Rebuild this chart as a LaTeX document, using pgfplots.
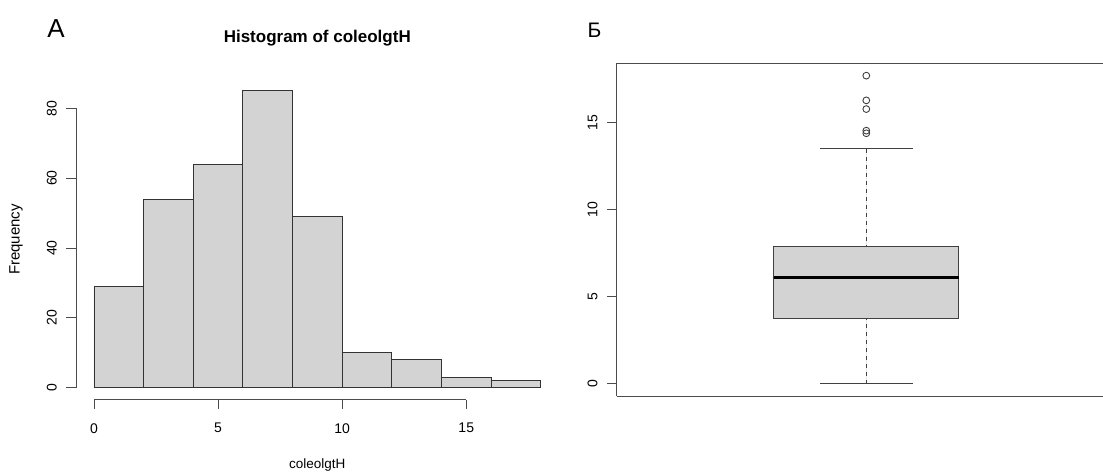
\documentclass[border=0pt]{standalone}
\usepackage{fontspec}
\setmainfont{Liberation Sans}
\usepackage{pgfplots}
\pgfplotsset{compat=1.18}
\usepgfplotslibrary{statistics}
\definecolor{rgray}{HTML}{D3D3D3}
\begin{document}
\begin{tikzpicture}
\useasboundingbox (0,0) rectangle (1103pt,472pt);
\pgfplotsset{
  rstyle/.style={
    scale only axis,
    /pgf/number format/assume math mode=true,
    every tick label/.append style={font=\fontsize{14}{16}\selectfont, black, inner sep=0pt},
    tick align=outside,
    major tick length=9.5pt,
    tick style={black!70, line width=0.9pt},
    yticklabel={\rotatebox{90}{\pgfmathprintnumber{\tick}}},
    yticklabel style={anchor=east, xshift=-9.5pt},
    xticklabel style={anchor=north, yshift=-14pt},
    clip=false,
  }
}
% ---------- Histogram ----------
\begin{axis}[rstyle,
  at={(76pt,72.4pt)}, anchor=south west,
  width=482.6pt, height=320.6pt,
  xmin=-0.725, xmax=18.72, ymin=-3.4, ymax=88.4,
  axis x line*=bottom, axis y line*=left,
  axis line style={draw=none},
  xtick={0,5,10,15}, ytick={0,20,40,60,80},
  title={Histogram of coleolgtH},
  title style={at={(rel axis cs:0.5,1.0936)}, anchor=base, inner sep=0pt, font=\bfseries\fontsize{17}{19}\selectfont},
  xlabel={coleolgtH},
  xlabel style={at={(rel axis cs:0.5,-0.2149)}, anchor=base, inner sep=0pt, font=\fontsize{13.5}{15}\selectfont},
  ylabel={Frequency},
  ylabel style={at={(rel axis cs:-0.1243,0.4994)}, anchor=center, inner sep=0pt, font=\fontsize{15}{17}\selectfont},
]
\addplot[ybar interval, fill=rgray, draw=black!80, line width=0.9pt]
  coordinates {(0,29) (2,54) (4,64) (6,85) (8,49) (10,10) (12,8) (14,3) (16,2) (18,2)};
\draw[black!70, line width=0.9pt] (axis cs:0,-3.4) -- (axis cs:15,-3.4);
\draw[black!70, line width=0.9pt] (axis cs:-0.725,0) -- (axis cs:-0.725,80);
\end{axis}
% ---------- Boxplot ----------
\begin{axis}[rstyle,
  at={(616.7pt,76pt)}, anchor=south west,
  width=486.3pt, height=332.7pt,
  xmin=-0.0794, xmax=2.0236, ymin=-0.707, ymax=18.41,
  axis x line*=box, axis y line*=left,
  axis line style={black!70, line width=0.9pt},
  xtick=\empty, ytick={0,5,10,15},
  boxplot/draw direction=y,
  boxplot/draw/lower whisker/.code={%
    \draw[dash pattern=on 4pt off 4pt, black!75, line width=0.9pt]
      (boxplot cs:\pgfplotsboxplotvalue{lower whisker}) --
      (boxplot cs:\pgfplotsboxplotvalue{lower quartile});
    \draw[black!75, line width=0.9pt]
      (boxplot whisker cs:\pgfplotsboxplotvalue{lower whisker},0) --
      (boxplot whisker cs:\pgfplotsboxplotvalue{lower whisker},1);
  },
  boxplot/draw/upper whisker/.code={%
    \draw[dash pattern=on 4pt off 4pt, black!75, line width=0.9pt]
      (boxplot cs:\pgfplotsboxplotvalue{upper whisker}) --
      (boxplot cs:\pgfplotsboxplotvalue{upper quartile});
    \draw[black!75, line width=0.9pt]
      (boxplot whisker cs:\pgfplotsboxplotvalue{upper whisker},0) --
      (boxplot whisker cs:\pgfplotsboxplotvalue{upper whisker},1);
  },
  boxplot/every median/.style={black, line width=2.8pt},
]
\addplot[boxplot prepared={draw position=1, median=6.11, upper quartile=7.86,
    lower quartile=3.76, upper whisker=13.49, lower whisker=0,
    box extend=0.8, whisker extend=0.4},
  fill=rgray, draw=black!75, line width=0.9pt] coordinates {};
\addplot[only marks, mark=o, mark size=3.4pt, black!75, line width=0.9pt]
  coordinates {(1,17.70) (1,16.28) (1,15.78) (1,14.54) (1,14.39)};
\end{axis}
\node[font=\fontsize{26}{30}\selectfont, inner sep=0pt] at (56pt,443.7pt) {А};
\node[font=\fontsize{21}{24}\selectfont, inner sep=0pt] at (594.6pt,441.7pt) {Б};
\end{tikzpicture}
\end{document}
